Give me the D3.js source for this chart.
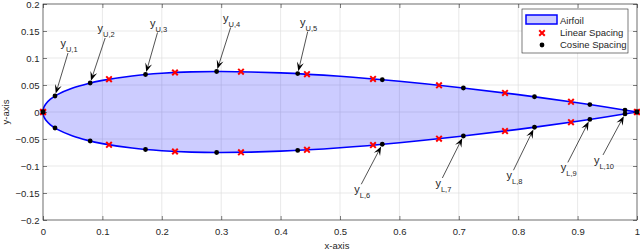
<!DOCTYPE html>
<html>
<head>
<meta charset="utf-8">
<script src="https://cdn.jsdelivr.net/npm/d3@7"></script>
<style>
  body { margin: 0; background: #fff; }
  text { font-family: "Liberation Sans", Arial, sans-serif; fill: #262626; }
</style>
</head>
<body>
<div id="chart"></div>
<script>
// airfoil outline (NACA 0015 shape)
var foilX = [0, 0.00125, 0.0025, 0.005, 0.0125, 0.025, 0.05, 0.075, 0.1, 0.15, 0.2, 0.25, 0.3, 0.4, 0.5, 0.6, 0.7, 0.8, 0.9, 0.95, 1];
var foilUpper = [0, 0.0078, 0.0109, 0.0153, 0.0237, 0.0327, 0.0444, 0.0525, 0.0585, 0.0668, 0.0717, 0.0743, 0.0750, 0.0725, 0.0661, 0.0568, 0.0454, 0.0321, 0.0171, 0.0088, 0];
var foilLower = [0, -0.0078, -0.0109, -0.0153, -0.0237, -0.0327, -0.0444, -0.0525, -0.0585, -0.0668, -0.0717, -0.0743, -0.0750, -0.0725, -0.0661, -0.0568, -0.0454, -0.0321, -0.0171, -0.0088, 0];

// linear spacing points
var linX = [0, 0.1111, 0.2222, 0.3333, 0.4444, 0.5556, 0.6667, 0.7778, 0.8889, 1];
var linUpper = [0, 0.0608, 0.0731, 0.0747, 0.0701, 0.0613, 0.0494, 0.0353, 0.0188, 0];
var linLower = [0, -0.0608, -0.0731, -0.0747, -0.0701, -0.0613, -0.0494, -0.0353, -0.0188, 0];

// cosine spacing points
var cosX = [0, 0.0202, 0.0794, 0.1726, 0.2923, 0.4288, 0.5712, 0.7077, 0.8274, 0.9206, 0.9798, 1];
var cosUpper = [0, 0.0296, 0.0537, 0.0694, 0.0750, 0.0711, 0.0597, 0.0444, 0.0282, 0.0137, 0.0036, 0];
var cosLower = [0, -0.0296, -0.0537, -0.0694, -0.0750, -0.0711, -0.0597, -0.0444, -0.0282, -0.0137, -0.0036, 0];

// annotations
var upperIdx = [1, 2, 3, 4, 5];
var upperLabels = ["U,1", "U,2", "U,3", "U,4", "U,5"];
var lowerIdx = [6, 7, 8, 9, 10];
var lowerLabels = ["L,6", "L,7", "L,8", "L,9", "L,10"];

var xTicks = [0, 0.1, 0.2, 0.3, 0.4, 0.5, 0.6, 0.7, 0.8, 0.9, 1];
var yTicks = [-0.2, -0.15, -0.1, -0.05, 0, 0.05, 0.1, 0.15, 0.2];

// layout: arrow tail offsets from the point (px)
var upperTail = [[13, -43], [15, -45], [12, -42], [14, -44], [10, -42]];
var lowerTail = [[-21, 40], [-21, 42], [-21, 43], [-22, 43], [-22, 41]];

function drawChart() {
  var width = 640, height = 251;
  var left = 43, right = 637, top = 4, bottom = 220;

  var x = d3.scaleLinear().domain([0, 1]).range([left, right]);
  var y = d3.scaleLinear().domain([-0.2, 0.2]).range([bottom, top]);

  var svg = d3.select("#chart")
    .append("svg")
    .attr("width", width)
    .attr("height", height);

  // grid
  svg.append("g").selectAll("line.gx")
    .data(xTicks).enter().append("line")
    .attr("x1", function(d) { return x(d); })
    .attr("x2", function(d) { return x(d); })
    .attr("y1", top).attr("y2", bottom)
    .attr("stroke", "#dfdfdf").attr("stroke-width", 0.7);
  svg.append("g").selectAll("line.gy")
    .data(yTicks).enter().append("line")
    .attr("y1", function(d) { return y(d); })
    .attr("y2", function(d) { return y(d); })
    .attr("x1", left).attr("x2", right)
    .attr("stroke", "#dfdfdf").attr("stroke-width", 0.7);

  // airfoil outline: TE -> LE along upper, then LE -> TE along lower
  var pts = [];
  for (var i = foilX.length - 1; i >= 0; i--) pts.push([foilX[i], foilUpper[i]]);
  for (var j = 1; j < foilX.length; j++) pts.push([foilX[j], foilLower[j]]);

  var line = d3.line()
    .x(function(d) { return x(d[0]); })
    .y(function(d) { return y(d[1]); })
    .curve(d3.curveCatmullRom);

  svg.append("path")
    .attr("d", line(pts) + "Z")
    .attr("fill", "#0000ff")
    .attr("fill-opacity", 0.2)
    .attr("stroke", "#0000ff")
    .attr("stroke-width", 1.6);

  // axes box with inward ticks
  var axisCol = "#262626";
  svg.append("rect")
    .attr("x", left).attr("y", top)
    .attr("width", right - left).attr("height", bottom - top)
    .attr("fill", "none").attr("stroke", axisCol).attr("stroke-width", 0.6);

  var xAxisB = d3.axisBottom(x).tickValues(xTicks).tickSize(-4).tickFormat(d3.format("~g"));
  var xAxisT = d3.axisTop(x).tickValues(xTicks).tickSize(-4).tickFormat("");
  var yAxisL = d3.axisLeft(y).tickValues(yTicks).tickSize(-4).tickFormat(d3.format("~g"));
  var yAxisR = d3.axisRight(y).tickValues(yTicks).tickSize(-4).tickFormat("");

  var gxb = svg.append("g").attr("transform", "translate(0," + bottom + ")").call(xAxisB);
  svg.append("g").attr("transform", "translate(0," + top + ")").call(xAxisT);
  var gyl = svg.append("g").attr("transform", "translate(" + left + ",0)").call(yAxisL);
  svg.append("g").attr("transform", "translate(" + right + ",0)").call(yAxisR);

  svg.selectAll(".domain").remove();
  svg.selectAll(".tick line").attr("stroke", axisCol).attr("stroke-width", 0.6);
  svg.selectAll(".tick text").attr("fill", "#262626").style("font-size", "9.5px")
    .style("font-family", "'Liberation Sans', Arial, sans-serif");
  gxb.selectAll(".tick text").attr("y", 8).attr("dy", "0.71em");
  gyl.selectAll(".tick text").attr("x", -3.5).attr("dy", "0.34em");

  // axis titles
  svg.append("text")
    .attr("x", 337).attr("y", 249)
    .attr("text-anchor", "middle")
    .style("font-size", "9.5px")
    .text("x-axis");
  svg.append("text")
    .attr("transform", "translate(9," + ((top + bottom) / 2) + ") rotate(-90)")
    .attr("text-anchor", "middle")
    .style("font-size", "9.5px")
    .text("y-axis");

  // markers
  var cross = d3.symbol().type(d3.symbolX).size(22);
  var linPts = linX.map(function(d, k) { return [d, linUpper[k]]; })
    .concat(linX.map(function(d, k) { return [d, linLower[k]]; }));
  svg.append("g").selectAll("path")
    .data(linPts).enter().append("path")
    .attr("d", cross)
    .attr("transform", function(d) { return "translate(" + x(d[0]) + "," + y(d[1]) + ")"; })
    .attr("stroke", "#ff0000").attr("stroke-width", 2).attr("fill", "none");

  var cosPts = cosX.map(function(d, k) { return [d, cosUpper[k]]; })
    .concat(cosX.map(function(d, k) { return [d, cosLower[k]]; }));
  svg.append("g").selectAll("circle")
    .data(cosPts).enter().append("circle")
    .attr("cx", function(d) { return x(d[0]); })
    .attr("cy", function(d) { return y(d[1]); })
    .attr("r", 2.4)
    .attr("fill", "#000");

  // annotation arrows
  function annotate(idx, yy, label, off, below) {
    var px = x(cosX[idx]), py = y(yy[idx]);
    var tx = px + off[0], ty = py + off[1];
    var dx = px - tx, dy = py - ty, len = Math.sqrt(dx * dx + dy * dy);
    var ux = dx / len, uy = dy / len, nx = -uy, ny = ux;
    var tipX = px - ux * 2.5, tipY = py - uy * 2.5;
    var L = 9, W = 7;
    svg.append("line")
      .attr("x1", tx).attr("y1", ty)
      .attr("x2", tipX - ux * L * 0.6).attr("y2", tipY - uy * L * 0.6)
      .attr("stroke", "#262626").attr("stroke-width", 0.8);
    var head = [
      [tipX, tipY],
      [tipX - ux * L + nx * W / 2, tipY - uy * L + ny * W / 2],
      [tipX - ux * L * 0.6, tipY - uy * L * 0.6],
      [tipX - ux * L - nx * W / 2, tipY - uy * L - ny * W / 2]
    ];
    svg.append("path")
      .attr("d", "M" + head.join("L") + "Z")
      .attr("fill", "#000");

    var t = svg.append("text")
      .attr("x", tx + 1)
      .attr("y", below ? ty + 9 : ty - 6)
      .attr("text-anchor", "middle");
    t.append("tspan").style("font-size", "11px").text("y");
    t.append("tspan").style("font-size", "7.5px").attr("dy", 5).text(label);
  }

  upperIdx.forEach(function(idx, k) { annotate(idx, cosUpper, upperLabels[k], upperTail[k], false); });
  lowerIdx.forEach(function(idx, k) { annotate(idx, cosLower, lowerLabels[k], lowerTail[k], true); });

  // legend
  var lg = svg.append("g");
  lg.append("rect")
    .attr("x", 522).attr("y", 9).attr("width", 106).attr("height", 44)
    .attr("fill", "#fff").attr("stroke", axisCol).attr("stroke-width", 0.6);
  lg.append("rect")
    .attr("x", 526).attr("y", 15).attr("width", 31).attr("height", 9)
    .attr("fill", "#0000ff").attr("fill-opacity", 0.2)
    .attr("stroke", "#0000ff").attr("stroke-width", 1.5);
  lg.append("path")
    .attr("d", cross)
    .attr("transform", "translate(542,33)")
    .attr("stroke", "#ff0000").attr("stroke-width", 2).attr("fill", "none");
  lg.append("circle").attr("cx", 542).attr("cy", 45).attr("r", 2.4).attr("fill", "#000");
  var names = ["Airfoil", "Linear Spacing", "Cosine Spacing"];
  lg.selectAll("text.lab")
    .data(names).enter().append("text")
    .attr("x", 560)
    .attr("y", function(d, k) { return 23.5 + k * 12; })
    .style("font-size", "9.5px")
    .text(function(d) { return d; });
}

drawChart();
</script>
</body>
</html>
